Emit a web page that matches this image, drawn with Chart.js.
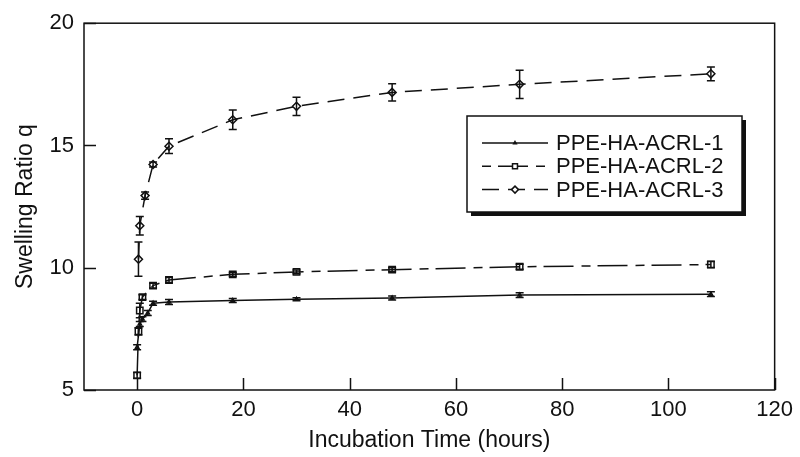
<!DOCTYPE html>
<html>
<head>
<meta charset="utf-8">
<script src="https://cdn.jsdelivr.net/npm/chart.js@4.4.0/dist/chart.umd.min.js"></script>
<style>
  html, body { margin: 0; padding: 0; background: #fff; }
  #wrap { width: 800px; height: 457px; }
</style>
</head>
<body>
<div id="wrap"><canvas id="swelling"></canvas></div>
<script>
// values
const seriesNames = ['PPE-HA-ACRL-1', 'PPE-HA-ACRL-2', 'PPE-HA-ACRL-3'];

const hours1 = [0, 0.5, 1, 2, 3, 6, 18, 30, 48, 72, 108];
const ratio1 = [6.75, 7.7, 7.9, 8.15, 8.55, 8.6, 8.66, 8.71, 8.76, 8.88, 8.92];
const err1 = [0.1, 0.1, 0.1, 0.1, 0.08, 0.1, 0.08, 0.06, 0.08, 0.1, 0.1];

const hours2 = [0, 0.25, 0.5, 1, 3, 6, 18, 30, 48, 72, 108];
const ratio2 = [5.6, 7.4, 8.25, 8.8, 9.27, 9.5, 9.73, 9.83, 9.92, 10.04, 10.13];
const err2 = [0.12, 0.15, 0.3, 0.1, 0.1, 0.1, 0.08, 0.08, 0.08, 0.1, 0.12];

const hours3 = [0.25, 0.5, 1.5, 3, 6, 18, 30, 48, 72, 108];
const ratio3 = [10.35, 11.72, 12.95, 14.22, 14.97, 16.05, 16.6, 17.17, 17.5, 17.93];
const err3 = [0.7, 0.38, 0.15, 0.1, 0.3, 0.4, 0.37, 0.35, 0.58, 0.28];

const xTicks = [0, 20, 40, 60, 80, 100, 120];
const yTicks = [5, 10, 15, 20];

const ink = '#111';
const fontFamily = '"Liberation Sans", Arial, sans-serif';

const toPoints = (xs, ys) => xs.map((x, i) => ({ x: x, y: ys[i] }));

// error bars, drawn through the scales
const errorBars = {
  id: 'errorBars',
  afterDatasetsDraw(chart) {
    const { ctx, scales: { x, y } } = chart;
    ctx.save();
    ctx.strokeStyle = ink;
    ctx.lineWidth = 1.5;
    ctx.setLineDash([]);
    chart.data.datasets.forEach(ds => {
      ds.data.forEach((p, i) => {
        const e = ds.errors[i];
        const px = x.getPixelForValue(p.x);
        const top = y.getPixelForValue(p.y + e);
        const bot = y.getPixelForValue(p.y - e);
        ctx.beginPath();
        ctx.moveTo(px, top); ctx.lineTo(px, bot);
        ctx.moveTo(px - 4, top); ctx.lineTo(px + 4, top);
        ctx.moveTo(px - 4, bot); ctx.lineTo(px + 4, bot);
        ctx.stroke();
      });
    });
    ctx.restore();
  }
};

// box around the plot with inward ticks
const frame = {
  id: 'frame',
  afterDraw(chart) {
    const { ctx, chartArea: a, scales: { x, y } } = chart;
    ctx.save();
    ctx.strokeStyle = ink;
    ctx.lineWidth = 1.5;
    ctx.setLineDash([]);
    ctx.strokeRect(a.left, a.top, a.right - a.left, a.bottom - a.top);
    ctx.beginPath();
    xTicks.forEach(v => {
      const px = Math.round(x.getPixelForValue(v)) + 0.5;
      ctx.moveTo(px, a.bottom); ctx.lineTo(px, a.bottom - 12);
    });
    yTicks.forEach(v => {
      const py = Math.round(y.getPixelForValue(v)) + 0.5;
      ctx.moveTo(a.left, py); ctx.lineTo(a.left + 12, py);
    });
    ctx.stroke();
    ctx.restore();
  }
};

// legend box with drop shadow inside the plot
const boxLegend = {
  id: 'boxLegend',
  afterDraw(chart) {
    const { ctx } = chart;
    const bx = 467, by = 116, bw = 275, bh = 96;
    ctx.save();
    ctx.fillStyle = ink;
    ctx.fillRect(bx + 4, by + 4, bw, bh);
    ctx.fillStyle = '#fff';
    ctx.fillRect(bx, by, bw, bh);
    ctx.strokeStyle = ink;
    ctx.lineWidth = 1.5;
    ctx.strokeRect(bx, by, bw, bh);
    chart.data.datasets.forEach((ds, i) => {
      const ry = by + 27 + i * 23.3;
      ctx.strokeStyle = ink;
      ctx.setLineDash(ds.borderDash || []);
      ctx.lineDashOffset = ds.legendDashOffset || 0;
      ctx.lineWidth = 1.5;
      ctx.beginPath();
      ctx.moveTo(bx + 15, ry); ctx.lineTo(bx + 81, ry);
      ctx.stroke();
      ctx.setLineDash([]);
      ctx.fillStyle = '#fff';
      Chart.helpers.drawPoint(ctx, {
        pointStyle: ds.pointStyle, radius: ds.legendRadius, borderWidth: 1.5
      }, bx + 48, ry);
      ctx.fillStyle = ink;
      ctx.font = '22px ' + fontFamily;
      ctx.textBaseline = 'middle';
      ctx.fillText(ds.label, bx + 89, ry + 1);
    });
    ctx.restore();
  }
};

const baseSet = {
  borderColor: ink,
  borderWidth: 1.5,
  pointBorderColor: ink,
  pointBackgroundColor: 'rgba(255,255,255,0)',
  pointBorderWidth: 1.5,
  tension: 0,
  fill: false
};

new Chart(document.getElementById('swelling').getContext('2d'), {
  type: 'line',
  data: {
    datasets: [
      Object.assign({}, baseSet, {
        label: seriesNames[0],
        data: toPoints(hours1, ratio1),
        errors: err1,
        pointStyle: 'triangle',
        pointRadius: 2,
        legendRadius: 1.5
      }),
      Object.assign({}, baseSet, {
        label: seriesNames[1],
        data: toPoints(hours2, ratio2),
        errors: err2,
        borderDash: [30, 8, 9, 7],
        legendDashOffset: 38,
        pointStyle: 'rect',
        pointRadius: 4.5,
        legendRadius: 3.5
      }),
      Object.assign({}, baseSet, {
        label: seriesNames[2],
        data: toPoints(hours3, ratio3),
        errors: err3,
        borderDash: [17, 9],
        legendDashOffset: 0,
        pointStyle: 'rectRot',
        pointRadius: 4,
        legendRadius: 3.5
      })
    ]
  },
  options: {
    responsive: true,
    maintainAspectRatio: false,
    animation: false,
    layout: { padding: { top: 14, right: 25, left: 0, bottom: 0 } },
    plugins: {
      legend: { display: false },
      tooltip: { enabled: false }
    },
    scales: {
      x: {
        type: 'linear',
        min: -10,
        max: 120,
        afterFit: s => { s.height = 67; },
        afterBuildTicks: s => { s.ticks = xTicks.map(v => ({ value: v })); },
        grid: { display: false, drawTicks: false },
        border: { display: false },
        ticks: { color: ink, padding: 7, font: { size: 22, family: fontFamily }, maxRotation: 0 },
        title: {
          display: true,
          text: 'Incubation Time (hours)',
          color: ink,
          font: { size: 23, family: fontFamily },
          padding: { top: 0, bottom: 3 }
        }
      },
      y: {
        type: 'linear',
        min: 5,
        max: 20,
        afterFit: s => { s.width = 84; },
        afterBuildTicks: s => { s.ticks = yTicks.map(v => ({ value: v })); },
        grid: { display: false, drawTicks: false },
        border: { display: false },
        ticks: { color: ink, padding: 10, font: { size: 22, family: fontFamily } },
        title: {
          display: true,
          text: 'Swelling Ratio q',
          color: ink,
          font: { size: 23, family: fontFamily },
          padding: { top: 12, bottom: 0 }
        }
      }
    }
  },
  plugins: [errorBars, frame, boxLegend]
});
</script>
</body>
</html>
